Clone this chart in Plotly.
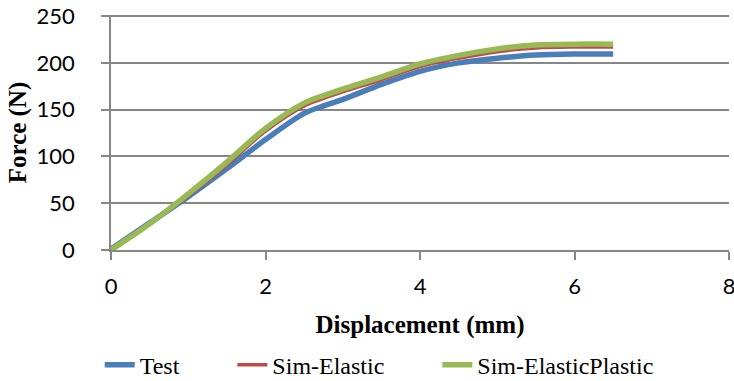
import plotly.graph_objects as go

# displacement (mm) sample points
disp = [0, 0.5, 1.0, 1.5, 2.0, 2.5, 2.75, 3.0, 3.5, 4.0, 4.5, 5.0, 5.5, 6.0, 6.5]

# force (N) per series
force_test = [1, 29, 57, 87, 118, 146, 154, 161, 177, 191, 200, 205, 208.5, 209.5, 209.5]
force_elastic = [0, 28, 58, 91, 127, 154, 162, 169, 182, 196, 205, 212, 216, 217, 217]
force_plastic = [0, 28, 60, 94, 130, 157, 165, 172, 185, 199, 208, 215, 219, 220, 220]

series = [
    ("Test", force_test, "#4A7EBB", 5.5),
    ("Sim-Elastic", force_elastic, "#BE4B48", 3.5),
    ("Sim-ElasticPlastic", force_plastic, "#98B954", 5.5),
]

pad = "\u00a0" * 8  # extra room between legend entries

fig = go.Figure()
for i, (name, ys, color, width) in enumerate(series):
    fig.add_trace(go.Scatter(
        x=disp, y=ys, mode="lines",
        name=name + (pad if i < len(series) - 1 else ""),
        line=dict(color=color, width=width, shape="spline", smoothing=0.9),
    ))

grey = "#878787"
fig.update_layout(
    width=734, height=381,
    margin=dict(l=111, r=5, t=15, b=131, autoexpand=False),
    plot_bgcolor="white", paper_bgcolor="white",
    showlegend=True,
    legend=dict(
        orientation="h", x=0.434, xanchor="center", y=-0.49, yanchor="middle",
        font=dict(family="Liberation Serif", size=24, color="black"),
        tracegroupgap=0,
    ),
    xaxis=dict(
        range=[0, 8], tickvals=[0, 2, 4, 6, 8], showgrid=False,
        showline=True, linecolor=grey, linewidth=1.5,
        ticks="outside", ticklen=8, tickcolor=grey, tickwidth=1.5,
        ticklabelstandoff=8, automargin=False, ticklabeloverflow="allow",
        tickfont=dict(family="Lato", size=22, color="black"),
        title=dict(text="<b>Displacement (mm)</b>", standoff=17,
                   font=dict(family="Liberation Serif", size=25, color="black")),
        zeroline=False,
    ),
    yaxis=dict(
        # a hair of headroom so the 250 gridline is not dropped at the edge
        range=[0, 251.2], tickvals=[0, 50, 100, 150, 200, 250],
        showgrid=True, gridcolor=grey, gridwidth=1.5,
        showline=True, linecolor=grey, linewidth=1.5,
        ticks="outside", ticklen=8, tickcolor=grey, tickwidth=1.5,
        ticklabelstandoff=22, automargin=False, ticklabeloverflow="allow",
        tickfont=dict(family="Lato", size=22, color="black"),
        title=dict(text="<b>Force (N)</b>", standoff=3,
                   font=dict(family="Liberation Serif", size=25, color="black")),
        zeroline=False,
    ),
)

# drop the browser's default body margin so the figure sits at the page corner
fig.write_html("out.html", config={"displayModeBar": False},
               post_script="document.body.style.margin = '0';")
